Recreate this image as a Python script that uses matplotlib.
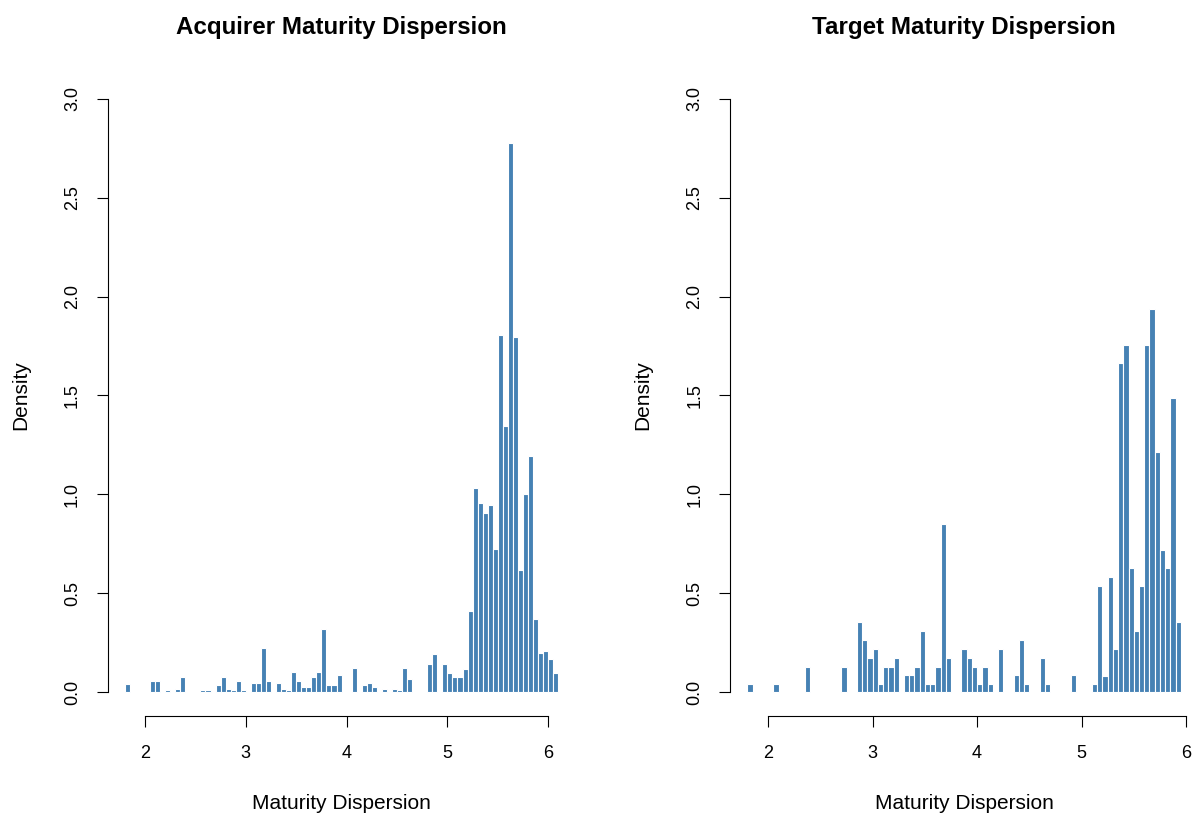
import matplotlib
matplotlib.use("Agg")
import matplotlib.pyplot as plt

plt.rcParams['font.family'] = ['Liberation Sans', 'DejaVu Sans']

# histogram bins (centres, width 0.05) and densities
acq_mid = [1.825, 2.075, 2.125, 2.225, 2.325, 2.375, 2.575, 2.625, 2.725, 2.775,
           2.825, 2.875, 2.925, 2.975, 3.075, 3.125, 3.175, 3.225, 3.325, 3.375,
           3.425, 3.475, 3.525, 3.575, 3.625, 3.675, 3.725, 3.775, 3.825, 3.875,
           3.925, 4.075, 4.175, 4.225, 4.275, 4.375, 4.475, 4.525, 4.575, 4.625,
           4.825, 4.875, 4.975, 5.025, 5.075, 5.125, 5.175, 5.225, 5.275, 5.325,
           5.375, 5.425, 5.475, 5.525, 5.575, 5.625, 5.675, 5.725, 5.775, 5.825,
           5.875, 5.925, 5.975, 6.025, 6.075]
acq_density = [0.040, 0.056, 0.056, 0.008, 0.015, 0.076, 0.008, 0.008, 0.035, 0.076,
               0.015, 0.008, 0.056, 0.008, 0.045, 0.045, 0.224, 0.056, 0.045, 0.015,
               0.008, 0.100, 0.056, 0.025, 0.025, 0.076, 0.100, 0.320, 0.035, 0.035,
               0.088, 0.120, 0.035, 0.045, 0.025, 0.015, 0.015, 0.008, 0.120, 0.066,
               0.140, 0.190, 0.140, 0.098, 0.076, 0.076, 0.115, 0.410, 1.030, 0.956,
               0.904, 0.945, 0.724, 1.807, 1.346, 2.775, 1.796, 0.619, 1.000, 1.196,
               0.368, 0.199, 0.209, 0.167, 0.094]

tgt_mid = [1.825, 2.075, 2.375, 2.725, 2.875, 2.925, 2.975, 3.025, 3.075, 3.125,
           3.175, 3.225, 3.325, 3.375, 3.425, 3.475, 3.525, 3.575, 3.625, 3.675,
           3.725, 3.875, 3.925, 3.975, 4.025, 4.075, 4.125, 4.225, 4.375, 4.425,
           4.475, 4.625, 4.675, 4.925, 5.125, 5.175, 5.225, 5.275, 5.325, 5.375,
           5.425, 5.475, 5.525, 5.575, 5.625, 5.675, 5.725, 5.775, 5.825, 5.875,
           5.925]
tgt_density = [0.040, 0.040, 0.128, 0.128, 0.354, 0.263, 0.174, 0.218, 0.040, 0.128,
               0.128, 0.174, 0.084, 0.084, 0.128, 0.309, 0.040, 0.040, 0.128, 0.852,
               0.174, 0.219, 0.174, 0.128, 0.040, 0.128, 0.040, 0.219, 0.084, 0.263,
               0.040, 0.174, 0.040, 0.084, 0.040, 0.536, 0.083, 0.580, 0.219, 1.666,
               1.755, 0.626, 0.309, 0.536, 1.755, 1.936, 1.212, 0.717, 0.626, 1.486,
               0.354]

bin_width = 0.05
x_ticks = [2, 3, 4, 5, 6]
y_ticks = [0.0, 0.5, 1.0, 1.5, 2.0, 2.5, 3.0]

W, H = 1196, 819
fig = plt.figure(figsize=(W / 100, H / 100), dpi=100)

panels = [
    ("Acquirer Maturity Dispersion", acq_mid, acq_density, 107.5, (1.628, 6.272)),
    ("Target Maturity Dispersion", tgt_mid, tgt_density, 730.0, (1.634, 6.116)),
]

for title, mids, dens, left_px, xlim in panels:
    ax = fig.add_axes([left_px / W, (H - 715.7) / H, 468.1 / W, 640.5 / H])
    ax.bar(mids, dens, width=bin_width, color='steelblue',
           edgecolor='white', linewidth=0.8)
    ax.set_xlim(*xlim)
    ax.set_ylim(-0.12, 3.12)

    for s in ['top', 'right']:
        ax.spines[s].set_visible(False)
    ax.spines['left'].set_bounds(0, 3)
    ax.spines['bottom'].set_bounds(2, 6)
    for s in ['left', 'bottom']:
        ax.spines[s].set_linewidth(0.8)

    ax.set_xticks(x_ticks)
    ax.set_xticklabels([str(t) for t in x_ticks])
    ax.set_yticks(y_ticks)
    ax.set_yticklabels([f"{t:.1f}" for t in y_ticks], rotation=90, va='center')
    ax.tick_params(axis='both', direction='out', length=8, width=0.8,
                   labelsize=13, colors='black')
    ax.tick_params(axis='x', pad=13)
    ax.tick_params(axis='y', pad=11)

    ax.set_title(title, fontweight='bold', fontsize=17.4, pad=0, y=1.065)
    ax.set_xlabel("Maturity Dispersion", fontsize=15, va='center')
    ax.xaxis.set_label_coords(0.5, -0.1363)
    ax.set_ylabel("Density", fontsize=15, va='center')
    ax.yaxis.set_label_coords(-0.186, 0.5)

fig.savefig("out.png", dpi=100)
